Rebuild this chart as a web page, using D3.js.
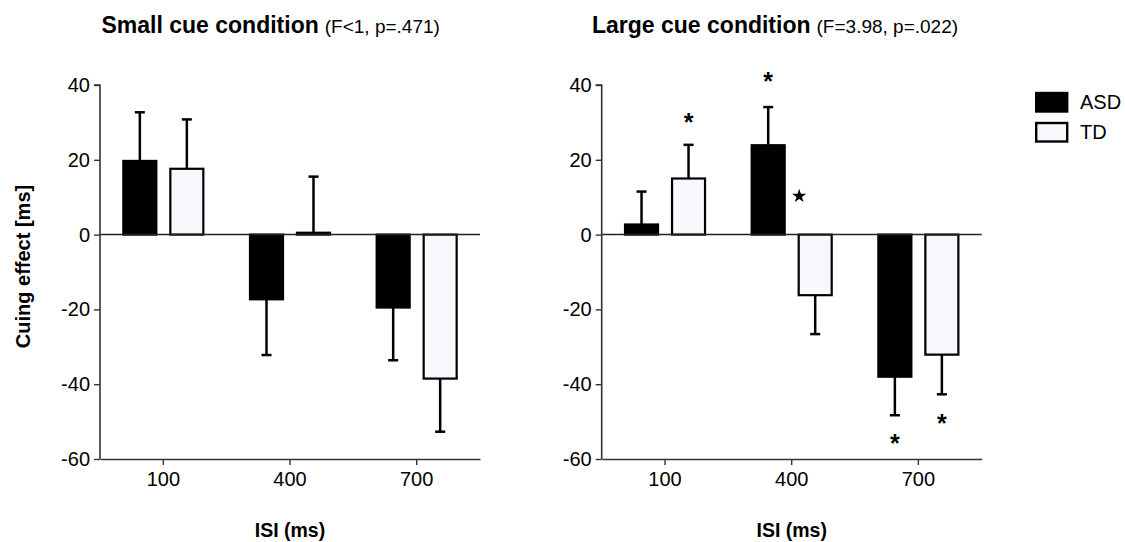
<!DOCTYPE html>
<html><head><meta charset="utf-8">
<script src="https://cdn.jsdelivr.net/npm/d3@7"></script>
<style>
html,body{margin:0;padding:0;background:#fff;}
svg{display:block;font-family:"Liberation Sans",Arial,Helvetica,sans-serif;}
</style></head>
<body>
<svg id="chart" width="1125" height="542"></svg>
<script>
// ---------- data ----------
const isiLabels = ["100", "400", "700"];
const groups = ["ASD", "TD"];
const yTicks = [40, 20, 0, -20, -40, -60];

const smallASD    = [19.7, -17.3, -19.5];
const smallASDErr = [13.0, 14.9, 14.1];
const smallTD     = [17.6, 0.5, -38.5];
const smallTDErr  = [13.2, 15.0, 14.2];

const largeASD    = [2.7, 23.9, -38.0];
const largeASDErr = [8.8, 10.2, 10.3];
const largeTD     = [15.0, -16.2, -32.1];
const largeTDErr  = [9.0, 10.4, 10.6];

// significance markers: [isi, group, value at marker centre]
const largeAsterisks = [["100", "TD", 31.5], ["400", "ASD", 42.4], ["700", "ASD", -54.4], ["700", "TD", -49.0]];
const largeFilledStars = [["400", "TD", 10.3]];

const panels = [
  {title: "Small cue condition", stats: "(F<1, p=.471)", asd: smallASD, asdErr: smallASDErr, td: smallTD, tdErr: smallTDErr, asterisks: [], stars: []},
  {title: "Large cue condition", stats: "(F=3.98, p=.022)", asd: largeASD, asdErr: largeASDErr, td: largeTD, tdErr: largeTDErr, asterisks: largeAsterisks, stars: largeFilledStars}
];

// ---------- layout ----------
const svg = d3.select("#chart");
const panelLeft = [100, 601.7];
const plotW = 380;
const y = d3.scaleLinear().domain([-60, 40]).range([459, 85]);
const colors = {ASD: "#000000", TD: "#f7f7fc"};
const barW = 33;

panels.forEach((p, pi) => {
  const x0 = panelLeft[pi];
  const g = svg.append("g").attr("transform", `translate(${x0},0)`);
  const x = d3.scaleBand().domain(isiLabels).range([0, plotW]).padding(0);
  const xIn = d3.scalePoint().domain(groups).range([-23.5, 23.5]);
  const cx = (isi, grp) => x(isi) + x.bandwidth() / 2 + xIn(grp);

  // title
  const t = svg.append("text").attr("x", pi === 0 ? 101.5 : 592).attr("y", 33).attr("fill", "#000");
  t.append("tspan").attr("font-weight", "bold").attr("font-size", 23).text(p.title);
  t.append("tspan").attr("font-size", 19).attr("dx", 6).text(p.stats);

  // bars
  const rows = [];
  isiLabels.forEach((isi, i) => {
    rows.push({isi, grp: "ASD", v: p.asd[i], e: p.asdErr[i]});
    rows.push({isi, grp: "TD", v: p.td[i], e: p.tdErr[i]});
  });

  // error bars (one-sided, away from zero)
  rows.forEach(r => {
    const end = r.v >= 0 ? r.v + r.e : r.v - r.e;
    const c = cx(r.isi, r.grp);
    g.append("line").attr("x1", c).attr("x2", c).attr("y1", y(r.v)).attr("y2", y(end))
      .attr("stroke", "#000").attr("stroke-width", 2.5);
    g.append("line").attr("x1", c - 5).attr("x2", c + 5).attr("y1", y(end)).attr("y2", y(end))
      .attr("stroke", "#000").attr("stroke-width", 2.5);
  });

  rows.forEach(r => {
    const c = cx(r.isi, r.grp);
    g.append("rect")
      .attr("x", c - barW / 2)
      .attr("y", y(Math.max(0, r.v)))
      .attr("width", barW)
      .attr("height", Math.abs(y(r.v) - y(0)))
      .attr("fill", colors[r.grp])
      .attr("stroke", "#000").attr("stroke-width", 2.2);
  });

  // zero line
  g.append("line").attr("x1", 0).attr("x2", plotW).attr("y1", y(0)).attr("y2", y(0))
    .attr("stroke", "#222").attr("stroke-width", 1.5);

  // y axis
  const ya = g.append("g").call(d3.axisLeft(y).tickValues(yTicks).tickSize(6).tickPadding(4).tickFormat(d => String(d)));
  ya.select(".domain").attr("stroke", "#333").attr("stroke-width", 1.6).attr("d", `M-6,${y(40)}H0V${y(-60)}`);
  ya.selectAll(".tick line").attr("stroke", "#333").attr("stroke-width", 1.4);
  ya.selectAll(".tick text").attr("font-size", 20).attr("fill", "#000").attr("font-family", null);

  // x axis
  const xa = g.append("g").attr("transform", `translate(0,${y(-60)})`)
    .call(d3.axisBottom(x).tickSize(6).tickPadding(7).tickSizeOuter(0));
  xa.select(".domain").attr("stroke", "#333").attr("stroke-width", 1.6);
  xa.selectAll(".tick line").attr("stroke", "#333").attr("stroke-width", 1.4);
  xa.selectAll(".tick text").attr("font-size", 20).attr("fill", "#000").attr("font-family", null);

  // x label
  g.append("text").attr("x", x(isiLabels[1]) + x.bandwidth() / 2).attr("y", 537)
    .attr("text-anchor", "middle").attr("font-weight", "bold").attr("font-size", 19.5).text("ISI (ms)");

  // markers
  p.asterisks.forEach(([isi, grp, v]) => {
    g.append("text").attr("x", cx(isi, grp)).attr("y", y(v) + 14)
      .attr("text-anchor", "middle").attr("font-weight", "bold").attr("font-size", 25).text("*");
  });
  p.stars.forEach(([isi, grp, v]) => {
    g.append("path").attr("d", d3.symbol(d3.symbolStar, 62)())
      .attr("transform", `translate(${x(isi) + x.bandwidth() / 2 + 7.5},${y(v)})`).attr("fill", "#000");
  });
});

// y axis title
svg.append("text").attr("transform", "translate(30,266.5) rotate(-90)")
  .attr("text-anchor", "middle").attr("font-weight", "bold").attr("font-size", 20).text("Cuing effect [ms]");

// legend
const leg = svg.append("g");
groups.forEach((grp, i) => {
  leg.append("rect").attr("x", 1036.2).attr("y", 93 + i * 30).attr("width", 31).attr("height", 18.5)
    .attr("fill", colors[grp]).attr("stroke", "#000").attr("stroke-width", 2.4);
  leg.append("text").attr("x", 1080).attr("y", 109 + i * 30).attr("font-size", 20).text(grp);
});
</script>
</body></html>
